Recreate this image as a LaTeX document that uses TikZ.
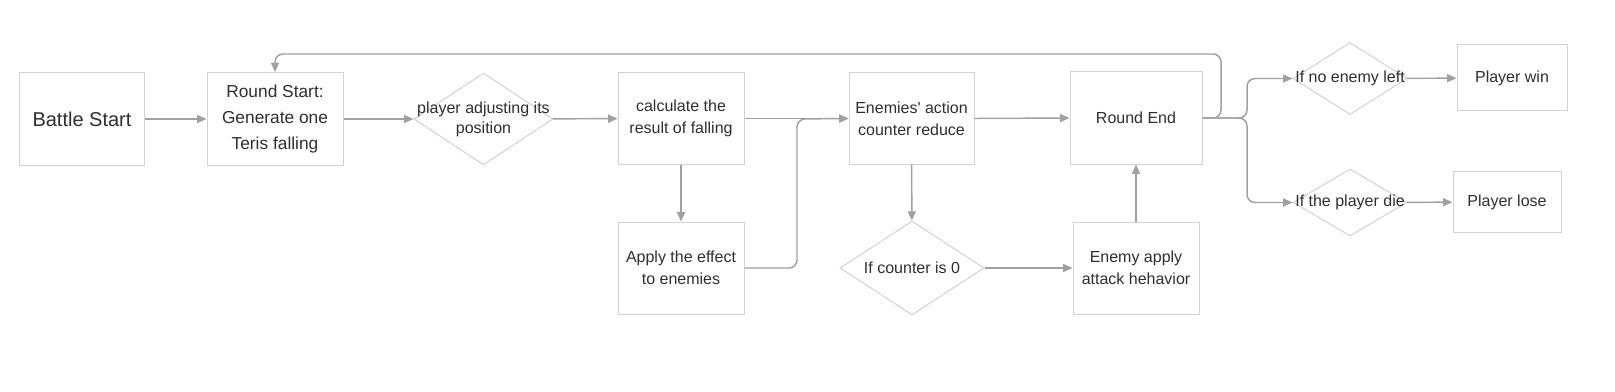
\documentclass[tikz,border=0pt]{standalone}
\usepackage{fontspec}
\setmainfont{Liberation Sans}[Ligatures=TeXOff]
\usetikzlibrary{shapes.geometric,arrows.meta}
\definecolor{boxline}{HTML}{D2D2D2}
\definecolor{arrowc}{HTML}{A0A0A0}
\definecolor{txt}{HTML}{2E2E2E}
\begin{document}
\begin{tikzpicture}[x=0.75pt,y=-0.75pt,
  every node/.style={text=txt, font=\fontsize{12}{16.5}\selectfont, align=center},
  boxnode/.style={draw=boxline, line width=0.75pt, rectangle, inner sep=0pt},
  dianode/.style={draw=boxline, line width=0.75pt, diamond, inner sep=0pt},
  flow/.style={draw=arrowc, line width=1.1pt, -{Triangle[length=7pt,width=6pt]}, rounded corners=6pt}]
\useasboundingbox (0,0) rectangle (1615,392);

\node[boxnode, minimum width=93.75pt, minimum height=69pt, font=\fontsize{15}{18}\selectfont] (battle) at (82,119) {Battle Start};
\node[boxnode, minimum width=102pt, minimum height=69.75pt, font=\fontsize{13}{19.5}\selectfont] (rstart) at (275,119) {Round Start:\\Generate one\\ Teris falling};
\node[dianode, minimum width=104.25pt, minimum height=69pt] (adjust) at (483.5,119) {\makebox[0pt]{\begin{tabular}{@{}c@{}}player adjusting its\\[-1pt]position\end{tabular}}};
\node[boxnode, minimum width=94.5pt, minimum height=69pt] (calc) at (681,118.5) {calculate the\\result of falling};
\node[boxnode, minimum width=94.5pt, minimum height=69pt] (apply) at (681,268) {Apply the effect\\to enemies};
\node[boxnode, minimum width=93.75pt, minimum height=68.25pt] (enemies) at (911.5,118.5) {Enemies' action\\counter reduce};
\node[dianode, minimum width=108pt, minimum height=70.5pt] (counter) at (912,268) {\makebox[0pt]{If counter is 0}};
\node[boxnode, minimum width=99pt, minimum height=69pt] (rend) at (1136,118) {Round End};
\node[boxnode, minimum width=94.5pt, minimum height=69pt] (eapply) at (1136,268) {Enemy apply\\attack hehavior};
\node[dianode, minimum width=85.5pt, minimum height=54pt] (noenemy) at (1350,78.5) {\makebox[0pt]{If no enemy left}};
\node[boxnode, minimum width=82.5pt, minimum height=49.5pt] (win) at (1512,78) {Player win};
\node[dianode, minimum width=85.5pt, minimum height=50.25pt] (die) at (1350,202.5) {\makebox[0pt]{If the player die}};
\node[boxnode, minimum width=81pt, minimum height=45.75pt] (lose) at (1507,202) {Player lose};

\coordinate (j1) at (797,119);
\coordinate (t1) at (1221,54);
\coordinate (s1) at (1247,118);

\draw[flow] (battle) -- (rstart);
\draw[flow] (rstart) -- (adjust);
\draw[flow] (adjust) -- (calc);
\draw[flow] (calc) -- (enemies);
\draw[flow] (calc) -- (apply);
\draw[flow] (apply.east) -| (j1) -- (enemies.west);
\draw[flow] (enemies.east) -- (rend.west);
\draw[flow] (enemies) -- (counter);
\draw[flow] (counter) -- (eapply);
\draw[flow] (eapply) -- (rend);
\draw[flow] (rend.east) -| (t1) -| (rstart.north);
\draw[flow] (rend.east) -- (s1) |- (noenemy.west);
\draw[flow] (rend.east) -- (s1) |- (die.west);
\draw[flow] (noenemy) -- (win);
\draw[flow] (die) -- (lose);
\end{tikzpicture}
\end{document}
